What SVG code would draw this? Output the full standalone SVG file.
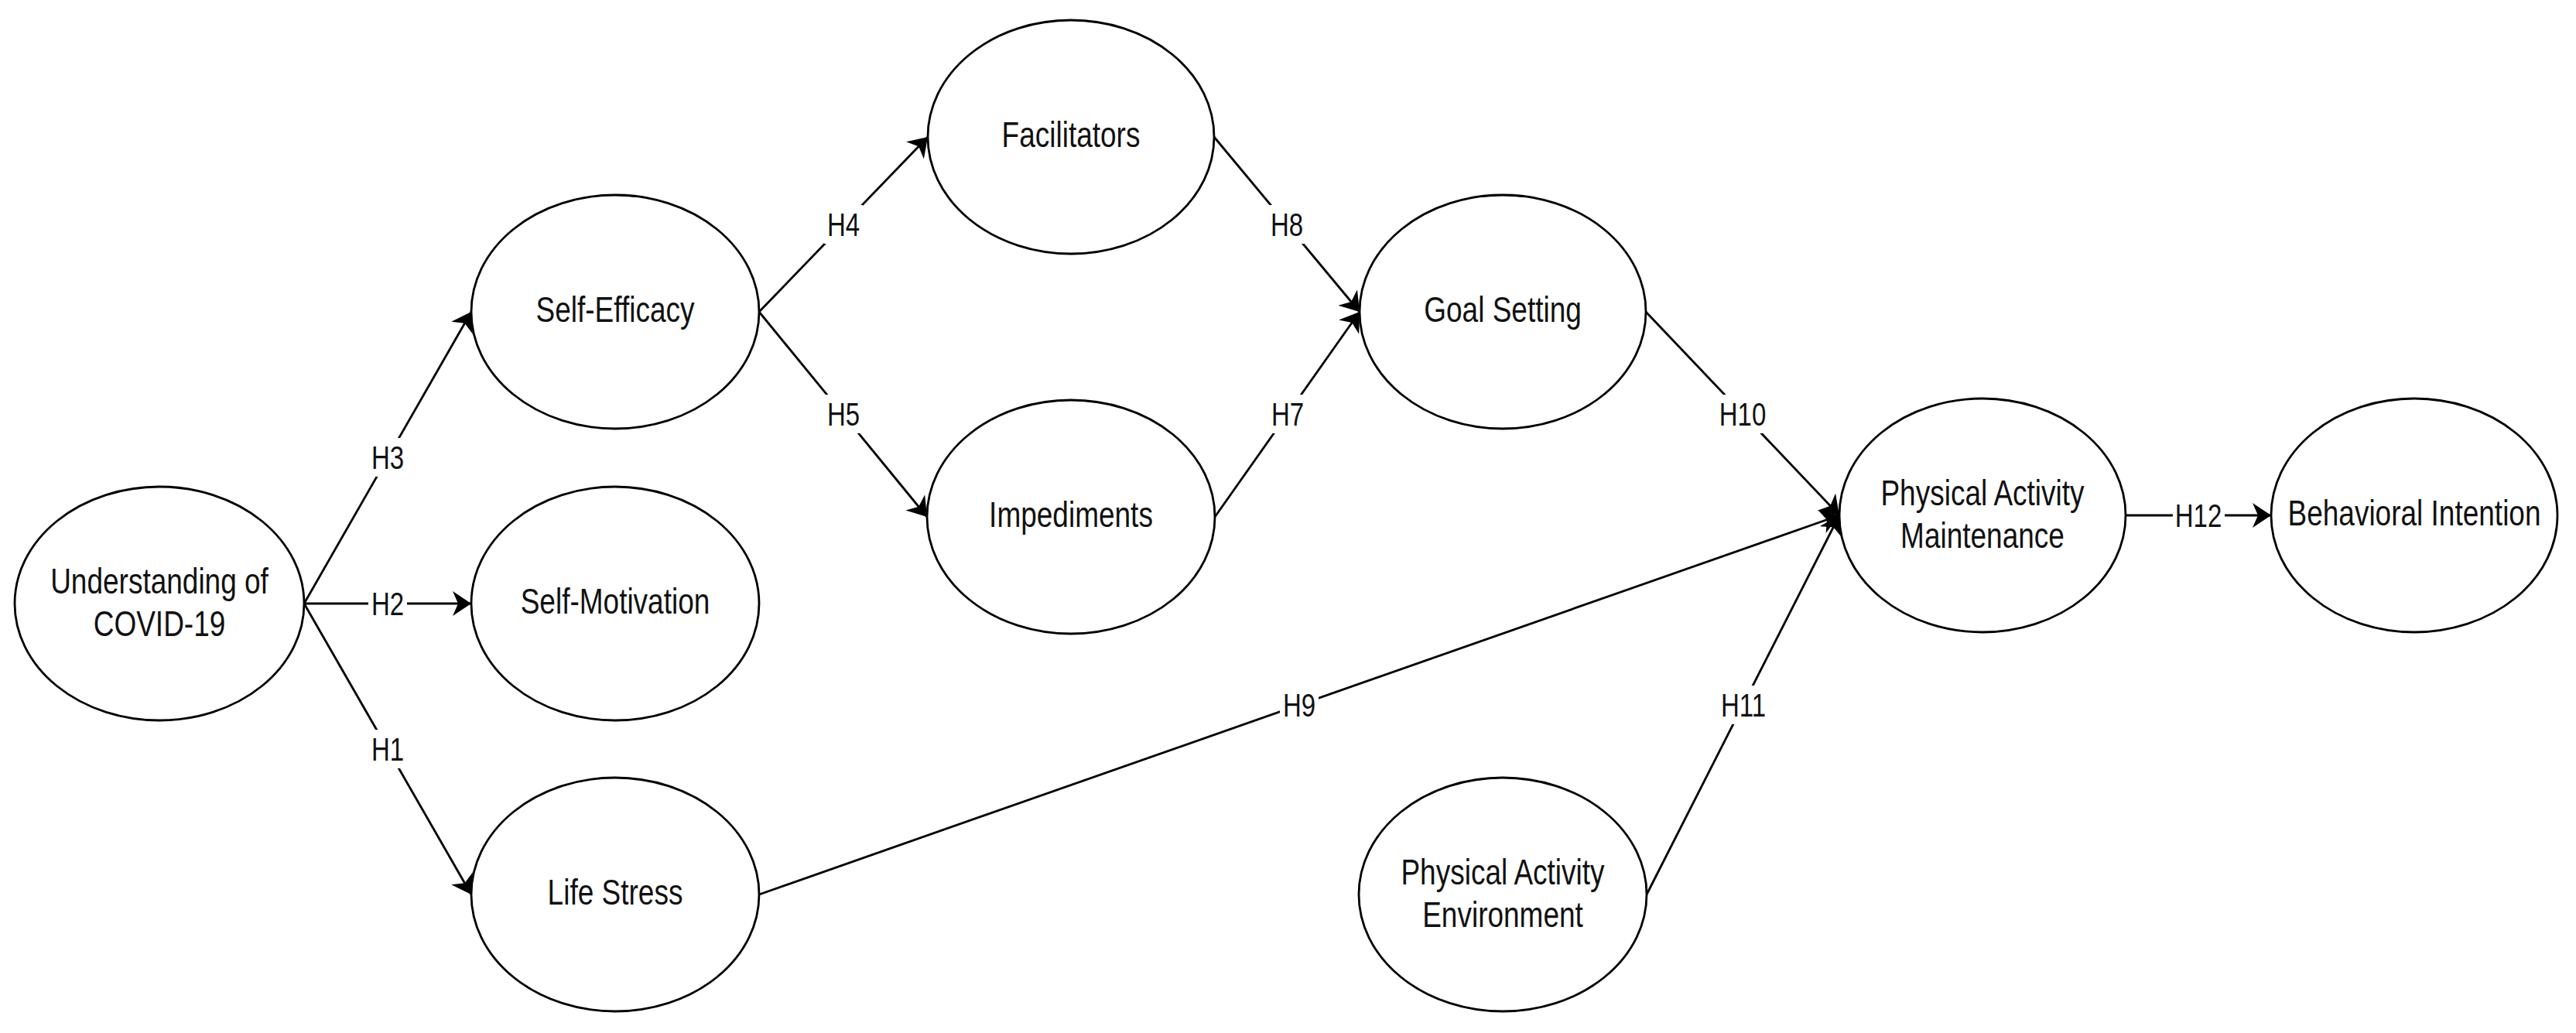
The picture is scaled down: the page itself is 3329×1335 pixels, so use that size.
<svg xmlns="http://www.w3.org/2000/svg" width="3329" height="1335" viewBox="0 0 3329 1335">
<style>
.node ellipse{fill:#fff;stroke:#000;stroke-width:2.8}
.node text{font-family:"Liberation Sans",Arial,sans-serif;font-size:37px;fill:#111;text-anchor:middle}
.edge line{stroke:#000;stroke-width:2.8;fill:none}
.lbl rect{fill:#fff;stroke:none}
.lbl text{font-family:"Liberation Sans",Arial,sans-serif;font-size:33px;fill:#111;text-anchor:middle}
</style>
<defs>
<marker id="arr" markerUnits="userSpaceOnUse" markerWidth="26" markerHeight="34" refX="24" refY="16" orient="auto" viewBox="0 0 26 34">
<path d="M24,16 L0,0 L7,16 L0,32 Z" fill="#000"/>
</marker>
</defs>
<rect width="3329" height="1335" fill="#fff"/>
<g id="nodes">
<g id="understanding" class="node"><ellipse cx="206" cy="780" rx="187" ry="151"/><text transform="translate(206,767) scale(1,1.26)">Understanding of</text><text transform="translate(206,822) scale(1,1.26)">COVID-19</text></g>
<g id="self-efficacy" class="node"><ellipse cx="795" cy="403" rx="186" ry="151"/><text transform="translate(795,416) scale(1,1.26)">Self-Efficacy</text></g>
<g id="self-motivation" class="node"><ellipse cx="795" cy="780" rx="186" ry="151"/><text transform="translate(795,793) scale(1,1.26)">Self-Motivation</text></g>
<g id="life-stress" class="node"><ellipse cx="795" cy="1156" rx="186" ry="151"/><text transform="translate(795,1169) scale(1,1.26)">Life Stress</text></g>
<g id="facilitators" class="node"><ellipse cx="1384" cy="177" rx="185" ry="151"/><text transform="translate(1384,190) scale(1,1.26)">Facilitators</text></g>
<g id="impediments" class="node"><ellipse cx="1384" cy="668" rx="186" ry="151"/><text transform="translate(1384,681) scale(1,1.26)">Impediments</text></g>
<g id="goal-setting" class="node"><ellipse cx="1942" cy="403" rx="185" ry="151"/><text transform="translate(1942,416) scale(1,1.26)">Goal Setting</text></g>
<g id="pa-environment" class="node"><ellipse cx="1942" cy="1156" rx="186" ry="151"/><text transform="translate(1942,1143) scale(1,1.26)">Physical Activity</text><text transform="translate(1942,1198) scale(1,1.26)">Environment</text></g>
<g id="pa-maintenance" class="node"><ellipse cx="2562" cy="666" rx="185" ry="151"/><text transform="translate(2562,653) scale(1,1.26)">Physical Activity</text><text transform="translate(2562,708) scale(1,1.26)">Maintenance</text></g>
<g id="behavioral-intention" class="node"><ellipse cx="3120" cy="666" rx="185" ry="151"/><text transform="translate(3120,679) scale(1,1.26)">Behavioral Intention</text></g>
</g>
<g id="connectors">
<g class="edge">
<line x1="393" y1="780" x2="609" y2="403" marker-end="url(#arr)"/>
<line x1="393" y1="780" x2="609" y2="780" marker-end="url(#arr)"/>
<line x1="393" y1="780" x2="609" y2="1156" marker-end="url(#arr)"/>
<line x1="981" y1="403" x2="1199" y2="177" marker-end="url(#arr)"/>
<line x1="981" y1="403" x2="1198" y2="668" marker-end="url(#arr)"/>
<line x1="1569" y1="177" x2="1757" y2="403" marker-end="url(#arr)"/>
<line x1="1570" y1="668" x2="1757" y2="403" marker-end="url(#arr)"/>
<line x1="2127" y1="403" x2="2377" y2="666" marker-end="url(#arr)"/>
<line x1="981" y1="1156" x2="2377" y2="666" marker-end="url(#arr)"/>
<line x1="2128" y1="1156" x2="2377" y2="666" marker-end="url(#arr)"/>
<line x1="2747" y1="666" x2="2935" y2="666" marker-end="url(#arr)"/>
</g>
<g class="lbl">
<rect x="476" y="566" width="50" height="50"/><text transform="translate(501,606) scale(1,1.27)">H3</text>
<rect x="476" y="755" width="50" height="50"/><text transform="translate(501,795) scale(1,1.27)">H2</text>
<rect x="476" y="943" width="50" height="50"/><text transform="translate(501,983) scale(1,1.27)">H1</text>
<rect x="1065" y="265" width="50" height="50"/><text transform="translate(1090,305) scale(1,1.27)">H4</text>
<rect x="1065" y="510" width="50" height="50"/><text transform="translate(1090,550) scale(1,1.27)">H5</text>
<rect x="1638" y="265" width="50" height="50"/><text transform="translate(1663,305) scale(1,1.27)">H8</text>
<rect x="1639" y="510" width="50" height="50"/><text transform="translate(1664,550) scale(1,1.27)">H7</text>
<rect x="2219" y="510" width="67" height="50"/><text transform="translate(2252,550) scale(1,1.27)">H10</text>
<rect x="1654" y="886" width="50" height="50"/><text transform="translate(1679,926) scale(1,1.27)">H9</text>
<rect x="2220" y="886" width="67" height="50"/><text transform="translate(2253,926) scale(1,1.27)">H11</text>
<rect x="2808" y="641" width="67" height="50"/><text transform="translate(2841,681) scale(1,1.27)">H12</text>
</g>
</g>
</svg>
